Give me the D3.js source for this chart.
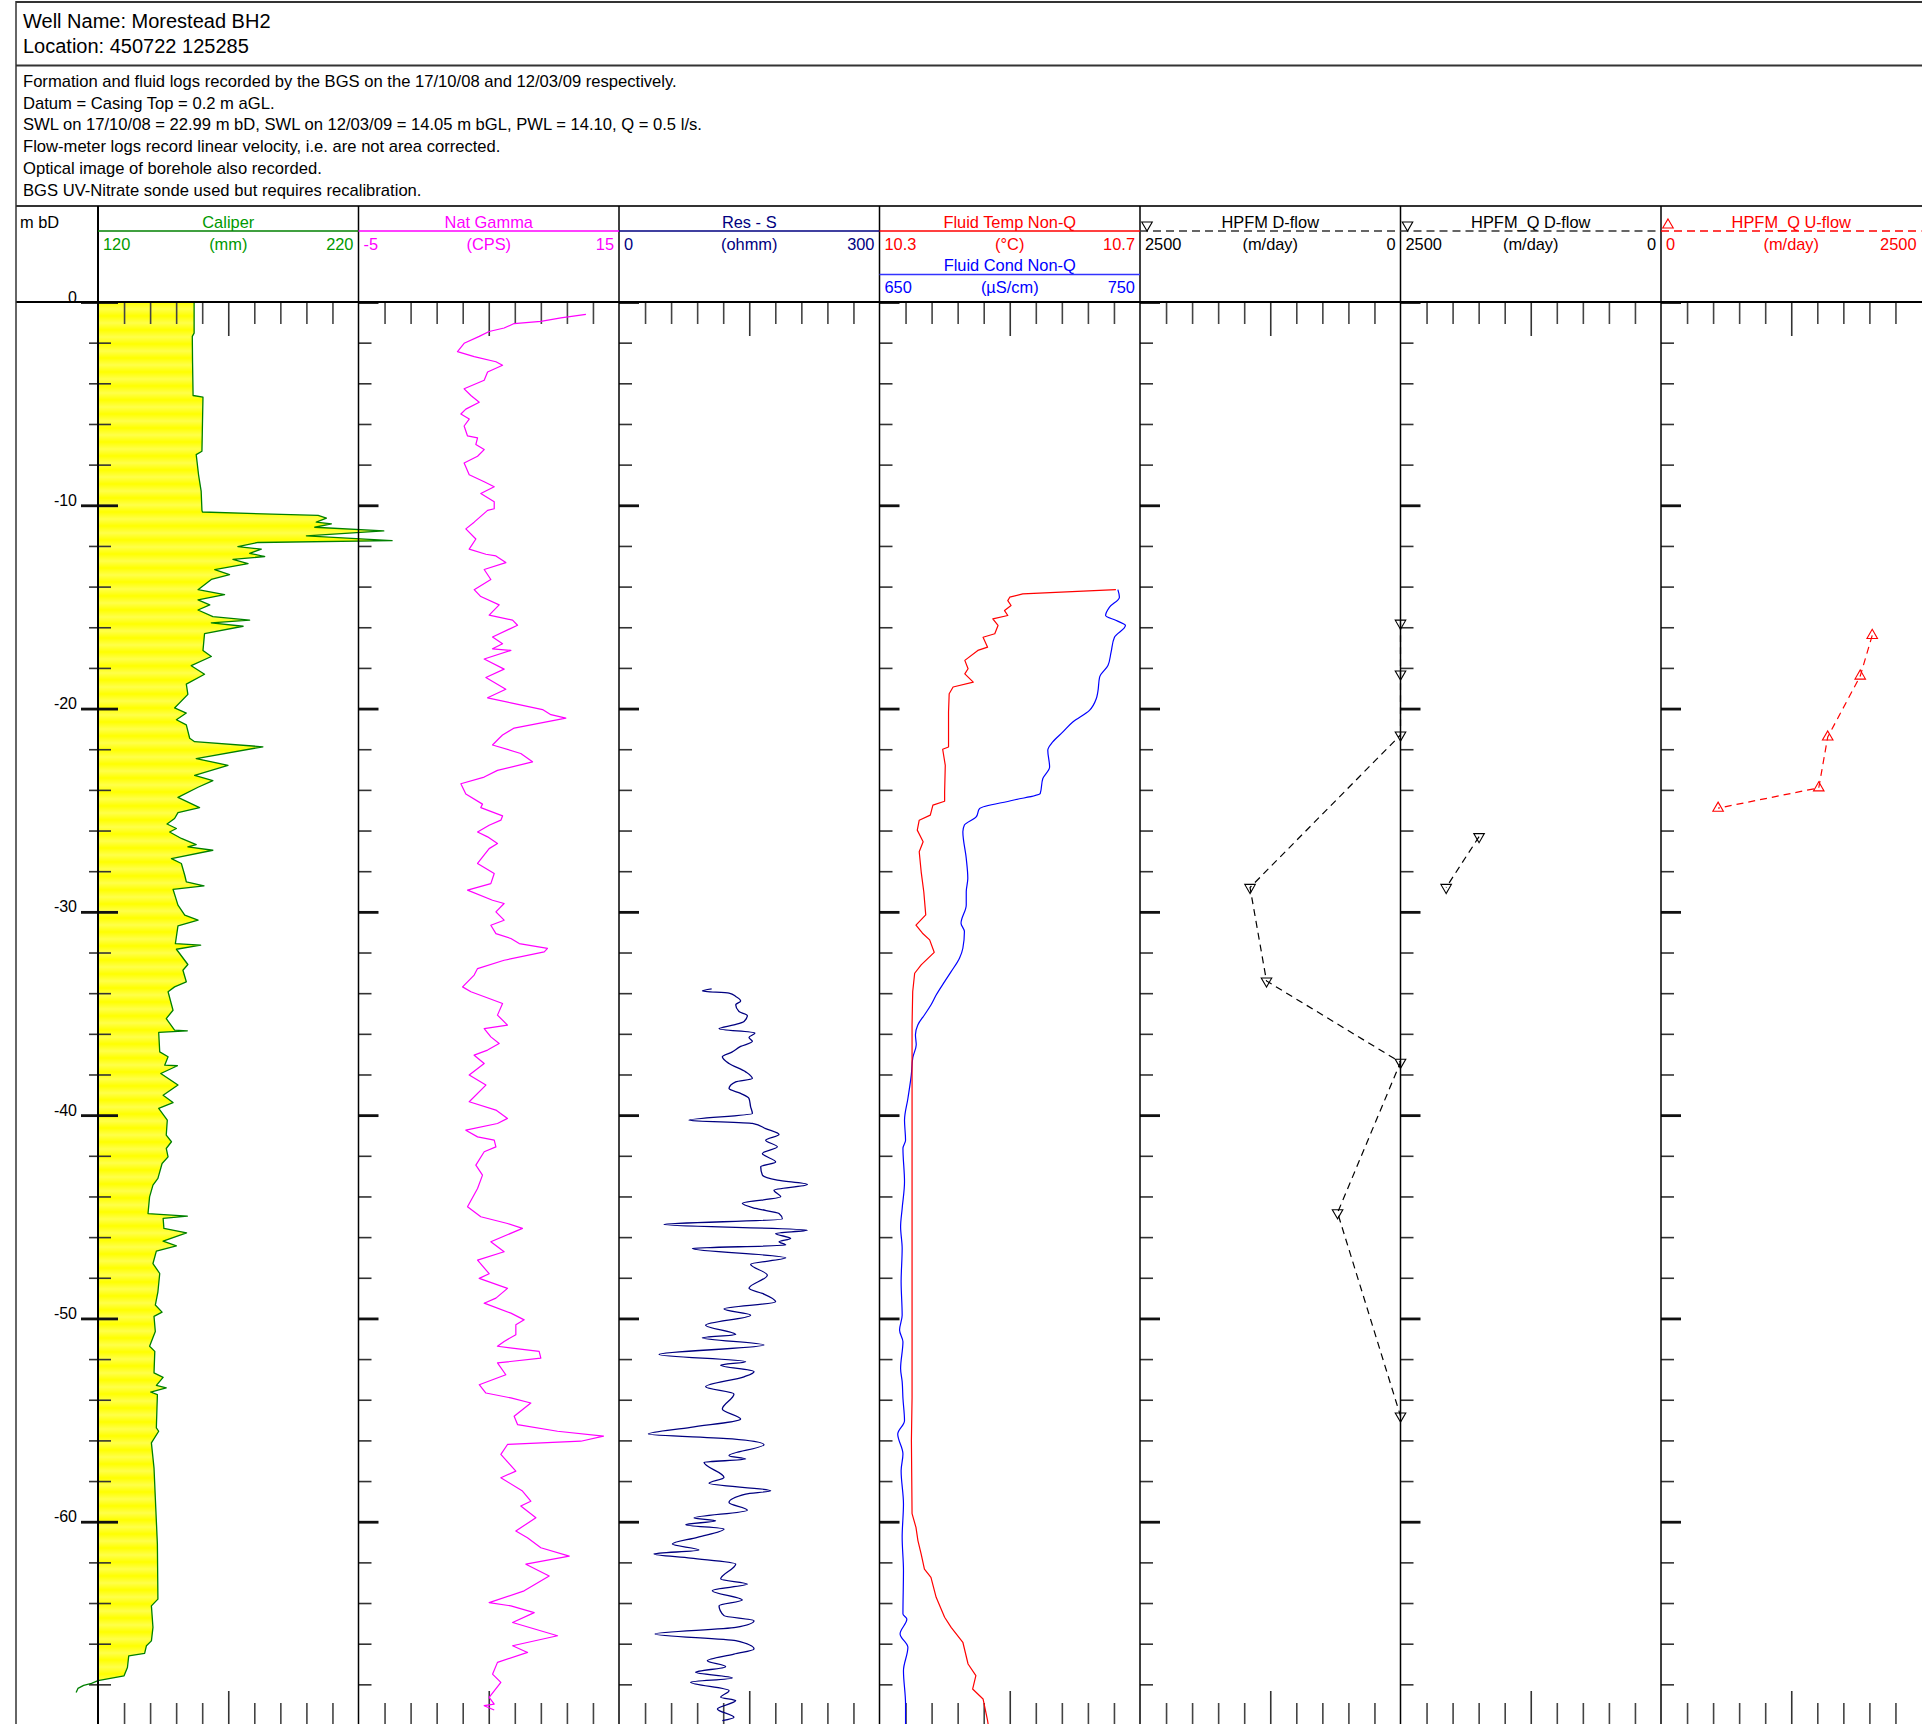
<!DOCTYPE html>
<html>
<head>
<meta charset="utf-8">
<script src="https://cdn.jsdelivr.net/npm/d3@7"></script>
<style>
html,body{margin:0;padding:0;background:#fff;}
svg{display:block;font-family:"Liberation Sans",Arial,Helvetica,sans-serif;}
</style>
</head>
<body>
<svg id="log" width="1922" height="1724"></svg>
<script>
// ---- header text ----
const wellInfo = ["Well Name: Morestead BH2", "Location: 450722 125285"];
const notes = [
  "Formation and fluid logs recorded by the BGS on the 17/10/08 and 12/03/09 respectively.",
  "Datum = Casing Top = 0.2 m aGL.",
  "SWL on 17/10/08 = 22.99 m bD, SWL on 12/03/09 = 14.05 m bGL, PWL = 14.10, Q = 0.5 l/s.",
  "Flow-meter logs record linear velocity, i.e. are not area corrected.",
  "Optical image of borehole also recorded.",
  "BGS UV-Nitrate sonde used but requires recalibration."
];

// ---- track headers ----
const trackTitles = ["Caliper", "Nat Gamma", "Res - S", "Fluid Temp Non-Q", "HPFM D-flow", "HPFM_Q D-flow", "HPFM_Q U-flow"];
const trackMins   = ["120", "-5", "0", "10.3", "2500", "2500", "0"];
const trackUnits  = ["(mm)", "(CPS)", "(ohmm)", "(°C)", "(m/day)", "(m/day)", "(m/day)"];
const trackMaxs   = ["220", "15", "300", "10.7", "0", "0", "2500"];
const condTitle = "Fluid Cond Non-Q", condMin = "650", condUnit = "(µS/cm)", condMax = "750";

// ---- depth axis ----
const depthLabelValues = [0, 10, 20, 30, 40, 50, 60];
const depthLabels = ["0", "-10", "-20", "-30", "-40", "-50", "-60"];

// ---- log curves: [depth m, value] ----
const caliper = [
[0,156.9],[1.53,156.9],[1.69,156.2],[3.0,156.3],[4.60,156.5],[4.68,160.3],[6.0,160.1],[7.34,159.9],[7.51,157.7],[8.50,158.6],[9.3,159.6],[10.25,159.9],[10.33,160.1],
[10.50,204.5],[10.63,207.7],[10.83,203.8],[10.91,209.6],[11.08,203.2],[11.26,229.7],[11.50,200.0],[11.74,232.9],[11.83,181.4],[12.03,173.7],[12.16,182.7],[12.36,178.2],
[12.52,184.0],[12.66,171.8],[12.87,177.6],[13.16,164.8],[13.41,170.5],[13.65,163.5],[14.15,158.4],[14.40,168.6],[14.65,158.4],[14.90,162.9],[15.15,158.4],[15.48,164.1],
[15.65,178.2],[15.78,163.5],[15.95,175.7],[16.31,160.9],[17.14,160.3],[17.44,163.5],[17.89,155.8],[18.31,160.9],[18.80,153.9],[19.30,154.5],[19.97,149.4],[20.22,153.9],
[20.55,150.1],[20.80,153.9],[21.46,155.2],[21.63,157.1],[21.88,183.3],[22.46,157.7],[22.79,169.9],[23.04,163.5],[23.29,157.1],[23.54,164.1],[23.87,158.4],[24.37,150.7],
[24.87,159.0],[25.12,150.7],[25.41,149.4],[25.68,146.5],[25.90,150.1],[26.07,147.5],[26.39,152.0],[26.69,157.7],[26.80,154.5],[26.97,164.1],[27.38,148.2],[27.62,152.0],
[28.20,153.3],[28.52,153.9],[28.72,160.7],[28.89,148.8],[29.67,150.7],[30.16,153.3],[30.41,158.4],[30.69,150.7],[31.56,149.7],[31.64,159.4],[31.84,150.1],[32.59,154.5],
[32.87,152.6],[33.44,153.9],[33.69,149.4],[33.93,146.9],[34.84,148.8],[35.25,146.2],[35.82,149.4],[35.85,154.3],[35.93,143.3],[36.89,143.7],[37.13,146.9],[37.54,145.6],
[37.57,150.5],[37.95,144.1],[38.52,150.7],[39.02,145.0],[39.38,148.8],[39.67,143.3],[40.25,146.6],[40.98,146.2],[41.31,148.2],[41.64,146.2],[42.05,146.9],[42.38,144.6],
[43.11,143.0],[43.44,141.1],[44.02,139.8],[44.84,139.2],[44.97,154.3],[45.08,145.0],[45.57,145.3],[45.79,154.0],[46.20,145.0],[46.43,150.1],[46.69,142.4],[47.30,141.1],
[47.79,143.7],[48.69,143.0],[49.34,142.0],[49.69,144.6],[49.90,141.5],[50.64,142.0],[51.37,139.8],[51.62,141.8],[52.68,141.5],[52.90,145.0],[53.29,142.4],[53.42,146.2],
[53.62,140.2],[53.75,142.8],[55.38,142.4],[55.55,143.3],[56.12,140.5],[57.35,141.5],[58.82,142.0],[61.11,142.8],[63.81,143.0],[64.14,140.5],[65.20,141.1],[65.86,140.5],
[66.10,138.6],[66.48,137.9],[66.60,131.8],[67.17,131.3],[67.58,130.0],[67.82,120.0],[67.95,117.5],[68.05,114.5],[68.2,112.3],[68.4,111.6]
];

const gamma = [
[0.61,12.46],[0.78,10.54],[0.95,9.0],[1.06,6.95],[1.28,6.18],[1.45,5.03],[1.69,4.27],[2.03,3.11],[2.44,2.60],[2.69,3.88],[2.94,5.55],[3.11,6.06],[3.44,4.91],[3.85,4.65],
[4.27,3.11],[4.60,3.63],[4.93,4.27],[5.27,3.24],[5.51,2.86],[5.76,3.50],[6.10,3.11],[6.59,3.37],[6.68,4.14],[7.01,4.01],[7.26,4.65],[7.59,4.14],[7.92,3.11],[8.50,3.50],
[8.84,4.65],[9.09,5.42],[9.42,4.39],[9.83,5.42],[10.17,5.42],[10.25,4.91],[10.83,3.88],[11.16,3.24],[11.66,4.01],[12.16,3.50],[12.41,4.78],[12.49,5.55],[12.82,6.31],
[13.16,4.65],[13.65,5.16],[14.15,3.88],[14.49,4.39],[14.90,5.80],[15.40,5.03],[15.65,6.83],[15.90,7.21],[16.48,5.29],[16.81,6.06],[17.06,5.29],[17.14,6.70],[17.56,4.65],
[18.06,6.18],[18.47,4.78],[19.05,6.31],[19.47,4.91],[19.72,6.70],[20.05,9.13],[20.30,9.77],[20.47,10.92],[20.96,6.95],[21.30,6.06],[21.46,5.80],[21.79,5.29],[22.21,7.46],
[22.62,8.36],[23.04,5.67],[23.37,4.65],[23.70,2.86],[24.20,3.24],[24.70,4.52],[24.87,4.39],[25.28,6.06],[25.49,5.93],[25.74,5.03],[26.07,4.14],[26.31,4.91],[26.64,5.67],
[26.89,5.03],[27.62,4.14],[28.11,5.42],[28.61,5.16],[28.93,3.37],[29.43,5.29],[29.59,6.18],[30.0,5.55],[30.41,6.18],[30.66,5.16],[31.07,5.55],[31.31,6.70],[31.56,7.34],
[31.80,9.51],[31.97,9.26],[32.38,6.18],[32.79,4.14],[33.11,3.88],[33.69,2.99],[33.93,3.63],[34.26,5.03],[34.51,6.06],[35.08,5.67],[35.57,6.44],[35.74,4.65],[36.15,5.16],
[36.48,5.80],[36.80,4.91],[37.05,3.88],[37.46,4.65],[38.03,3.50],[38.52,4.78],[39.34,3.50],[39.75,5.55],[40.16,6.44],[40.41,5.67],[40.74,3.24],[41.07,4.14],[41.23,5.42],
[41.56,5.55],[41.80,4.65],[42.46,4.01],[42.95,4.52],[43.61,4.14],[44.51,3.37],[45.0,4.39],[45.33,6.44],[45.57,7.59],[46.23,5.16],[46.72,6.18],[47.13,4.14],[47.80,5.03],
[48.03,4.27],[48.52,6.44],[49.0,5.55],[49.25,4.65],[49.74,6.70],[50.07,7.72],[50.31,7.08],[50.80,7.08],[51.13,6.18],[51.37,5.67],[51.62,8.87],[51.95,9.0],[52.19,5.67],
[52.77,6.31],[53.26,4.27],[53.67,4.78],[53.91,6.70],[54.16,8.23],[54.81,6.95],[55.22,7.21],[55.55,10.28],[55.79,13.81],[56.04,12.07],[56.20,6.44],[56.69,5.93],[57.51,7.08],
[57.84,5.93],[58.49,7.59],[58.99,8.23],[59.23,7.46],[59.80,8.62],[60.46,7.08],[60.79,7.97],[61.28,9.0],[61.69,11.18],[62.09,7.85],[62.67,9.64],[63.40,7.72],[63.98,5.03],
[64.14,6.70],[64.47,8.49],[64.96,6.83],[65.61,10.28],[66.10,6.83],[66.43,7.98],[66.92,5.67],[67.50,5.29],[67.90,5.93],[68.64,5.03],[68.97,5.42],[69.05,4.65],[69.26,5.42]
];

const resistivity = [
[33.79,106.7],[33.89,96],[34.0,126.7],[34.16,134.4],[34.38,140.1],[34.57,134.4],[34.90,138.2],[35.10,147.8],[35.39,144.0],[35.56,132.4],[35.75,115.2],[35.96,156.6],
[36.18,149.7],[36.37,153.6],[36.62,140.1],[36.9,130],[37.13,119],[37.46,126.7],[37.87,145.9],[38.2,153.6],[38.36,134.4],[38.69,126.7],[38.93,140.1],[39.18,149.7],
[39.59,151.6],[39.92,153.6],[40.25,80.6],[40.41,153.6],[40.66,168.9],[40.95,184.3],[41.23,168.9],[41.56,182.4],[41.89,165.1],[42.30,180.4],[42.54,163.2],[42.95,165.1],
[43.20,182.4],[43.41,216.9],[43.69,178.5],[44.02,186.2],[44.34,142.0],[44.59,157.4],[44.84,184.3],[45.11,188.1],[45.38,51.8],[45.66,216.9],[45.82,180.4],[46.07,197.7],
[46.23,184.3],[46.39,192.0],[46.56,84.5],[47.02,192.0],[47.34,151.6],[47.87,170.8],[48.52,149.7],[48.77,165.1],[49.18,180.4],[49.54,120.9],[49.84,151.6],[50.33,99.8],
[50.79,134.4],[50.95,96.0],[51.31,167.0],[51.77,46.1],[52.13,145.9],[52.30,117.1],[52.62,155.5],[52.87,144.0],[53.36,99.8],[53.72,132.4],[54.46,119.0],[54.95,140.1],
[55.36,82.5],[55.69,33.8],[55.93,130.5],[56.21,167.0],[56.75,126.7],[56.92,145.9],[57.08,97.9],[57.82,120.9],[58.11,103.7],[58.48,174.7],[58.64,145.9],[59.05,126.7],
[59.43,147.8],[59.82,86.4],[59.95,111.3],[60.15,76.8],[60.36,120.9],[60.77,90.2],[61.10,61.4],[61.39,92.1],[61.59,40.3],[61.79,82.5],[62.08,134.4],[62.82,117.1],
[63.07,147.8],[63.39,107.5],[63.85,142.0],[64.13,115.2],[64.62,120.9],[64.87,155.5],[65.20,134.4],[65.52,41.5],[65.85,134.4],[66.26,155.5],[66.51,132.4],[66.84,101.7],
[67.13,122.8],[67.41,88.3],[67.69,130.5],[67.90,82.5],[68.31,126.7],[68.64,117.1],[68.80,134.4],[69.21,113.3],[69.62,132.4],[69.79,119]
];

const fluidTemp = [
[14.15,10.663],[14.36,10.520],[14.52,10.500],[14.69,10.497],[14.93,10.502],[15.18,10.492],[15.42,10.497],[15.59,10.474],[15.91,10.482],[16.32,10.477],[16.49,10.459],
[16.98,10.466],[17.14,10.451],[17.63,10.431],[18.04,10.436],[18.29,10.431],[18.70,10.444],[18.94,10.413],[19.27,10.407],[20.17,10.406],[21.89,10.406],[22.0,10.397],
[22.79,10.401],[24.10,10.400],[24.56,10.400],[24.75,10.382],[25.24,10.378],[25.49,10.361],[25.98,10.358],[26.55,10.367],[27.04,10.361],[28.03,10.364],[29.01,10.368],
[30.15,10.371],[30.65,10.356],[31.05,10.366],[31.38,10.377],[31.99,10.384],[32.61,10.364],[33.02,10.354],[33.92,10.351],[35.56,10.350],[37.16,10.350],[43.3,10.350],
[53.9,10.350],[56.0,10.349],[59.6,10.350],[60.28,10.356],[60.93,10.359],[61.59,10.364],[62.33,10.369],[62.74,10.379],[63.72,10.387],[64.70,10.400],[65.20,10.410],
[65.93,10.428],[67.0,10.436],[67.57,10.448],[68.23,10.443],[68.72,10.459],[69.79,10.466],[70,10.467]
];

const fluidCond = [
[14.15,741.5],[14.52,742.1],[15.01,738.3],[15.42,736.8],[15.67,740.9],[15.91,744.4],[16.49,740.2],[17.22,738.9],[17.88,737.7],[18.45,734.5],[19.19,733.8],[19.52,733.2],
[20.09,730.6],[20.66,724.2],[21.15,720.4],[21.64,716.5],[22.05,714.6],[22.87,715.3],[23.44,712.7],[24.18,711.7],[24.51,701.2],[24.92,688.4],[25.33,687.1],[25.73,682.6],
[26.06,682.0],[27.37,683.3],[28.35,683.9],[29.01,683.3],[29.66,683.3],[30.56,681.3],[30.97,682.6],[31.79,682.0],[32.28,680.7],[32.94,677.5],[33.43,675.0],[34.08,671.8],
[34.57,669.8],[35.06,667.3],[35.56,664.7],[36.05,663.8],[36.54,664.1],[37.16,662.8],[38.03,662.2],[39.18,660.9],[40.25,659.6],[41.23,660.0],[41.64,659.0],[43.28,659.6],
[44.59,658.7],[45.49,658.1],[46.56,658.7],[48.20,658.3],[49.84,658.7],[50.57,657.7],[51.15,659.0],[52.46,658.1],[53.11,658.7],[53.93,659.0],[55.03,659.6],[55.69,657.0],
[56.67,659.0],[57.49,658.3],[59.13,659.2],[60.77,658.7],[62.41,659.2],[64.54,659.0],[64.79,660.5],[65.52,657.9],[66.18,660.9],[67.33,659.2],[68.97,660.0],[70,660.0]
];

// ---- flow-meter stations: [depth m, velocity m/day] ----
const hpfmDown  = [[15.8,0],[18.3,0],[21.3,0],[28.8,1444],[33.4,1286],[37.4,0],[44.8,604],[54.8,0]];
const hpfmQDown = [[26.3,1746],[28.8,2062]];
const hpfmQUp   = [[16.4,2027],[18.4,1912],[21.4,1600],[23.9,1514],[24.9,548]];

// ================= drawing =================
const svg = d3.select("#log");
const W = 1922;
const frameLeft = 16, depthAxisX = 98, trackW = 260.5;
const headTop = 206, plotTop = 302, plotBottom = 1725;
const trackX = i => depthAxisX + i * trackW;

const y = d3.scaleLinear().domain([0, 70]).range([plotTop, plotBottom]);

const xCal   = d3.scaleLinear([120, 220], [trackX(0), trackX(1)]);
const xGam   = d3.scaleLinear([-5, 15], [trackX(1), trackX(2)]);
const xRes   = d3.scaleLinear([0, 300], [trackX(2), trackX(3)]);
const xTemp  = d3.scaleLinear([10.3, 10.7], [trackX(3), trackX(4)]);
const xCond  = d3.scaleLinear([650, 750], [trackX(3), trackX(4)]);
const xHD    = d3.scaleLinear([2500, 0], [trackX(4), trackX(5)]);
const xHQD   = d3.scaleLinear([2500, 0], [trackX(5), trackX(6)]);
const xHQU   = d3.scaleLinear([0, 2500], [trackX(6), trackX(7)]);

const colors = {
  cal: "#008000", calText: "#009900", gam: "#ff00ff", res: "#000080",
  temp: "#ff0000", cond: "#0000ff", flow: "#000000", up: "#ff0000"
};
const trackColors = [colors.calText, colors.gam, colors.res, colors.temp, "#000", "#000", colors.up];
const lineColors  = [colors.cal, colors.gam, colors.res, colors.temp, "#333", "#333", colors.up];

// striped yellow fill for the caliper
const defs = svg.append("defs");
const grad = defs.append("linearGradient").attr("id", "calGrad")
  .attr("x1", 0).attr("y1", 0).attr("x2", 0).attr("y2", 1);
grad.append("stop").attr("offset", "0%").attr("stop-color", "#ffff00");
grad.append("stop").attr("offset", "50%").attr("stop-color", "#ffff4a");
grad.append("stop").attr("offset", "100%").attr("stop-color", "#ffff00");
defs.append("pattern").attr("id", "calFill").attr("patternUnits", "userSpaceOnUse")
  .attr("width", 20).attr("height", 14).attr("y", plotTop)
  .append("rect").attr("width", 20).attr("height", 14).attr("fill", "url(#calGrad)");
defs.append("clipPath").attr("id", "calClip")
  .append("rect").attr("x", trackX(0)).attr("y", plotTop).attr("width", W).attr("height", plotBottom - plotTop);

// ---- title block ----
const txt = svg.append("g").attr("fill", "#000");
txt.selectAll("text.well").data(wellInfo).join("text")
  .attr("x", 23).attr("y", (d, i) => 27.5 + i * 25).attr("font-size", 20).text(d => d);
txt.selectAll("text.note").data(notes).join("text")
  .attr("x", 23).attr("y", (d, i) => 86.7 + i * 21.8).attr("font-size", 16.6).text(d => d);

// ---- caliper fill (behind everything) ----
svg.append("path").datum(caliper)
  .attr("clip-path", "url(#calClip)")
  .attr("fill", "url(#calFill)")
  .attr("d", d3.area().y(d => y(d[0])).x0(xCal(120)).x1(d => xCal(d[1])));

// ---- depth ticks in each track ----
const minorDepths = d3.range(2, 70, 2).filter(d => d % 10 !== 0);
const majorDepths = d3.range(0, 71, 10);
const styleAxis = (g, w, c) => {
  g.select(".domain").remove();
  g.selectAll(".tick line").attr("stroke", c).attr("stroke-width", w);
};
for (let i = 0; i < 7; i++) {
  svg.append("g").attr("transform", `translate(${trackX(i)},0)`)
    .call(d3.axisRight(y).tickValues(minorDepths).tickSize(13).tickFormat(""))
    .call(g => styleAxis(g, 1.6, "#333"));
  svg.append("g").attr("transform", `translate(${trackX(i)},0)`)
    .call(d3.axisRight(y).tickValues(majorDepths).tickSize(20).tickFormat(""))
    .call(g => styleAxis(g, 2.8, "#111"));
}
// depth column ticks and labels
svg.append("g").attr("transform", `translate(${depthAxisX},0)`)
  .call(d3.axisLeft(y).tickValues(minorDepths).tickSize(9).tickFormat(""))
  .call(g => styleAxis(g, 1.6, "#333"));
svg.append("g").attr("transform", `translate(${depthAxisX},0)`)
  .call(d3.axisLeft(y).tickValues(majorDepths).tickSize(17).tickFormat(""))
  .call(g => styleAxis(g, 2.8, "#111"));
svg.append("g").attr("transform", `translate(${depthAxisX},0)`)
  .call(d3.axisLeft(y).tickValues(depthLabelValues).tickSize(17).tickPadding(4)
        .tickFormat((d, i) => depthLabels[i]))
  .call(g => {
    g.select(".domain").remove();
    g.selectAll(".tick line").remove();
    g.selectAll(".tick text").attr("dy", "0").attr("font-size", 16)
      .attr("font-family", '"Liberation Sans",Arial,sans-serif').attr("fill", "#000");
  });

// ---- scale ticks along top and bottom of each track ----
for (let i = 0; i < 7; i++) {
  const xs = d3.scaleLinear([0, 10], [trackX(i), trackX(i + 1)]);
  const minor = [1, 2, 3, 4, 6, 7, 8, 9];
  svg.append("g").attr("transform", `translate(0,${plotTop})`)
    .call(d3.axisBottom(xs).tickValues(minor).tickSize(22).tickFormat(""))
    .call(g => styleAxis(g, 1.6, "#444"));
  svg.append("g").attr("transform", `translate(0,${plotTop})`)
    .call(d3.axisBottom(xs).tickValues([5]).tickSize(34).tickFormat(""))
    .call(g => styleAxis(g, 1.6, "#333"));
  svg.append("g").attr("transform", `translate(0,${plotBottom})`)
    .call(d3.axisTop(xs).tickValues(minor).tickSize(22).tickFormat(""))
    .call(g => styleAxis(g, 1.6, "#444"));
  svg.append("g").attr("transform", `translate(0,${plotBottom})`)
    .call(d3.axisTop(xs).tickValues([5]).tickSize(34).tickFormat(""))
    .call(g => styleAxis(g, 1.6, "#333"));
}

// ---- curves ----
const curve = (data, xs, color, w, c) => svg.append("path").datum(data)
  .attr("fill", "none").attr("stroke", color).attr("stroke-width", w)
  .attr("stroke-linejoin", "round")
  .attr("d", d3.line().x(d => xs(d[1])).y(d => y(d[0])).curve(c || d3.curveLinear));

curve(caliper, xCal, colors.cal, 1.3);
curve(gamma, xGam, colors.gam, 1.2);
curve(resistivity, xRes, colors.res, 1.3, d3.curveMonotoneY);
curve(fluidCond, xCond, colors.cond, 1.2, d3.curveMonotoneY);
curve(fluidTemp, xTemp, colors.temp, 1.2);

// flow-meter stations
const flowLine = (data, xs, color) => svg.append("path").datum(data)
  .attr("fill", "none").attr("stroke", color).attr("stroke-width", 1.2)
  .attr("stroke-dasharray", "7,5")
  .attr("d", d3.line().x(d => xs(d[1])).y(d => y(d[0])));
const flowMarks = (data, xs, color, down) => svg.append("g").selectAll("path")
  .data(data).join("path")
  .attr("transform", d => `translate(${xs(d[1])},${y(d[0])}) rotate(${down ? 180 : 0})`)
  .attr("d", d3.symbol(d3.symbolTriangle, 48))
  .attr("fill", "none").attr("stroke", color).attr("stroke-width", 1.1);

flowLine(hpfmDown, xHD, colors.flow);
flowLine(hpfmQDown, xHQD, colors.flow);
flowLine(hpfmQUp, xHQU, colors.up);

// ---- frame and track borders ----
const frame = svg.append("g");
[2, 65.5, headTop].forEach(yy => frame.append("line")
  .attr("x1", frameLeft).attr("x2", W).attr("y1", yy).attr("y2", yy)
  .attr("stroke", "#333").attr("stroke-width", 2));
frame.append("line").attr("x1", frameLeft).attr("x2", W)
  .attr("y1", plotTop).attr("y2", plotTop).attr("stroke", "#000").attr("stroke-width", 2);
frame.append("line").attr("x1", frameLeft).attr("x2", W)
  .attr("y1", plotBottom).attr("y2", plotBottom).attr("stroke", "#000").attr("stroke-width", 2);
frame.append("line").attr("x1", frameLeft).attr("x2", frameLeft)
  .attr("y1", 1).attr("y2", 1724).attr("stroke", "#333").attr("stroke-width", 1.5);
d3.range(0, 7).forEach(i => frame.append("line")
  .attr("x1", trackX(i)).attr("x2", trackX(i)).attr("y1", headTop).attr("y2", 1724)
  .attr("stroke", "#000").attr("stroke-width", i === 0 ? 2 : 1.5));

flowMarks(hpfmDown, xHD, colors.flow, true);
flowMarks(hpfmQDown, xHQD, colors.flow, true);
flowMarks(hpfmQUp, xHQU, colors.up, false);

// ---- track headers ----
const head = svg.append("g").attr("font-size", 16.4);
head.append("text").attr("x", 20).attr("y", 228).attr("fill", "#000").text("m bD");
trackTitles.forEach((t, i) => {
  const l = trackX(i), r = trackX(i + 1), c = (l + r) / 2;
  const col = trackColors[i];
  head.append("text").attr("x", c).attr("y", 228).attr("text-anchor", "middle").attr("fill", col).text(t);
  const ul = head.append("line").attr("x1", l).attr("x2", r).attr("y1", 231).attr("y2", 231)
    .attr("stroke", lineColors[i]).attr("stroke-width", 1.5);
  if (i >= 4) {
    ul.attr("stroke-dasharray", "8,5").attr("stroke-width", 1.4);
    head.append("path")
      .attr("transform", `translate(${l + 7},${225}) rotate(${i === 6 ? 0 : 180})`)
      .attr("d", d3.symbol(d3.symbolTriangle, 48))
      .attr("fill", "none").attr("stroke", col).attr("stroke-width", 1.1);
  }
  head.append("text").attr("x", l + 5).attr("y", 250).attr("fill", col).text(trackMins[i]);
  head.append("text").attr("x", c).attr("y", 250).attr("text-anchor", "middle").attr("fill", col).text(trackUnits[i]);
  head.append("text").attr("x", r - 5).attr("y", 250).attr("text-anchor", "end").attr("fill", col).text(trackMaxs[i]);
});
{
  const l = trackX(3), r = trackX(4), c = (l + r) / 2;
  head.append("text").attr("x", c).attr("y", 271).attr("text-anchor", "middle").attr("fill", colors.cond).text(condTitle);
  head.append("line").attr("x1", l).attr("x2", r).attr("y1", 274.5).attr("y2", 274.5)
    .attr("stroke", "#3333ff").attr("stroke-width", 1.5);
  head.append("text").attr("x", l + 5).attr("y", 292.5).attr("fill", colors.cond).text(condMin);
  head.append("text").attr("x", c).attr("y", 292.5).attr("text-anchor", "middle").attr("fill", colors.cond).text(condUnit);
  head.append("text").attr("x", r - 5).attr("y", 292.5).attr("text-anchor", "end").attr("fill", colors.cond).text(condMax);
}
</script>
</body>
</html>
